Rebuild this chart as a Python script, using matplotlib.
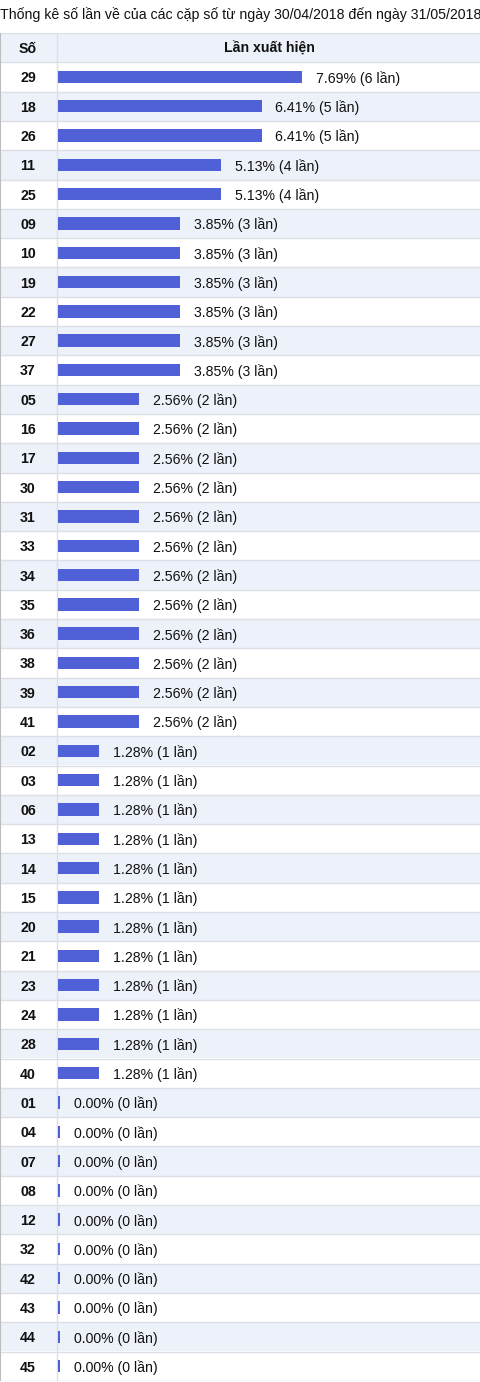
import matplotlib
matplotlib.use('Agg')
import matplotlib.pyplot as plt
from matplotlib.transforms import blended_transform_factory

plt.rcParams['font.family'] = ['Liberation Sans', 'DejaVu Sans']

title = 'Thống kê số lần về của các cặp số từ ngày 30/04/2018 đến ngày 31/05/2018'
col_headers = ['Số', 'Lần xuất hiện']

numbers = ['29', '18', '26', '11', '25',
           '09', '10', '19', '22', '27', '37',
           '05', '16', '17', '30', '31', '33', '34', '35', '36', '38', '39', '41',
           '02', '03', '06', '13', '14', '15', '20', '21', '23', '24', '28', '40',
           '01', '04', '07', '08', '12', '32', '42', '43', '44', '45']
counts = [6, 5, 5, 4, 4,
          3, 3, 3, 3, 3, 3,
          2, 2, 2, 2, 2, 2, 2, 2, 2, 2, 2, 2,
          1, 1, 1, 1, 1, 1, 1, 1, 1, 1, 1, 1,
          0, 0, 0, 0, 0, 0, 0, 0, 0, 0]
percents = ['7.69%', '6.41%', '6.41%', '5.13%', '5.13%',
            '3.85%', '3.85%', '3.85%', '3.85%', '3.85%', '3.85%',
            '2.56%', '2.56%', '2.56%', '2.56%', '2.56%', '2.56%',
            '2.56%', '2.56%', '2.56%', '2.56%', '2.56%', '2.56%',
            '1.28%', '1.28%', '1.28%', '1.28%', '1.28%', '1.28%',
            '1.28%', '1.28%', '1.28%', '1.28%', '1.28%', '1.28%',
            '0.00%', '0.00%', '0.00%', '0.00%', '0.00%',
            '0.00%', '0.00%', '0.00%', '0.00%', '0.00%']

W, H = 480, 1382
bar_color = '#5061d8'
shade = '#edf1f9'
grid = '#dcdfe6'
px = 40.7          # pixels per count
x0 = 58            # left edge of bar column
top = 33           # top of header row
row_h = 29.3

n = len(numbers)
fig = plt.figure(figsize=(W / 100, H / 100), dpi=100)
ax_h = (n + 1) * row_h
ax = fig.add_axes([0, (H - top - ax_h) / H, 1, ax_h / H])
ax.set_xlim(-x0 / px, (W - x0) / px)
ax.set_ylim(n - 0.5, -1.5)
ax.axis('off')

# row backgrounds (header shaded too)
for i in range(-1, n):
    if i % 2 == 1:
        ax.axhspan(i - 0.5, i + 0.5, color=shade, zorder=0, lw=0)
for i in range(-1, n + 1):
    ax.axhline(i - 0.5, color=grid, lw=1, zorder=1)
ax.axvline(-1 / px, color=grid, lw=1, zorder=1)
ax.axvline(-x0 / px + 0.5 / px, color='#bdbdbd', lw=1.5, zorder=1)

widths = [max(c, 0.05) for c in counts]
ax.barh(range(n), widths, height=0.42, color=bar_color, zorder=2)

for i, (w, c, p) in enumerate(zip(widths, counts, percents)):
    ax.annotate('%s (%d lần)' % (p, c), (w, i), xytext=(10, 0),
                textcoords='offset points', va='center_baseline', ha='left',
                fontsize=10.2, color='#111111')

tr = blended_transform_factory(fig.transFigure, ax.transData)
for i, num in enumerate(numbers):
    ax.text(28 / W, i, num, transform=tr, ha='center', va='center_baseline',
            fontsize=10.2, weight='bold', color='#111111')

ax.text(28 / W, -1, col_headers[0], transform=tr, ha='center',
        va='center_baseline', fontsize=10.2, weight='bold', color='#111111')
ax.text((x0 + W) / 2 / W, -1, col_headers[1], transform=tr, ha='center',
        va='center_baseline', fontsize=10.2, weight='bold', color='#111111')

fig.text(0, 1 - 15 / H, title, ha='left', va='center', fontsize=10.2,
         color='#111111')

fig.savefig('out.png', dpi=100)
